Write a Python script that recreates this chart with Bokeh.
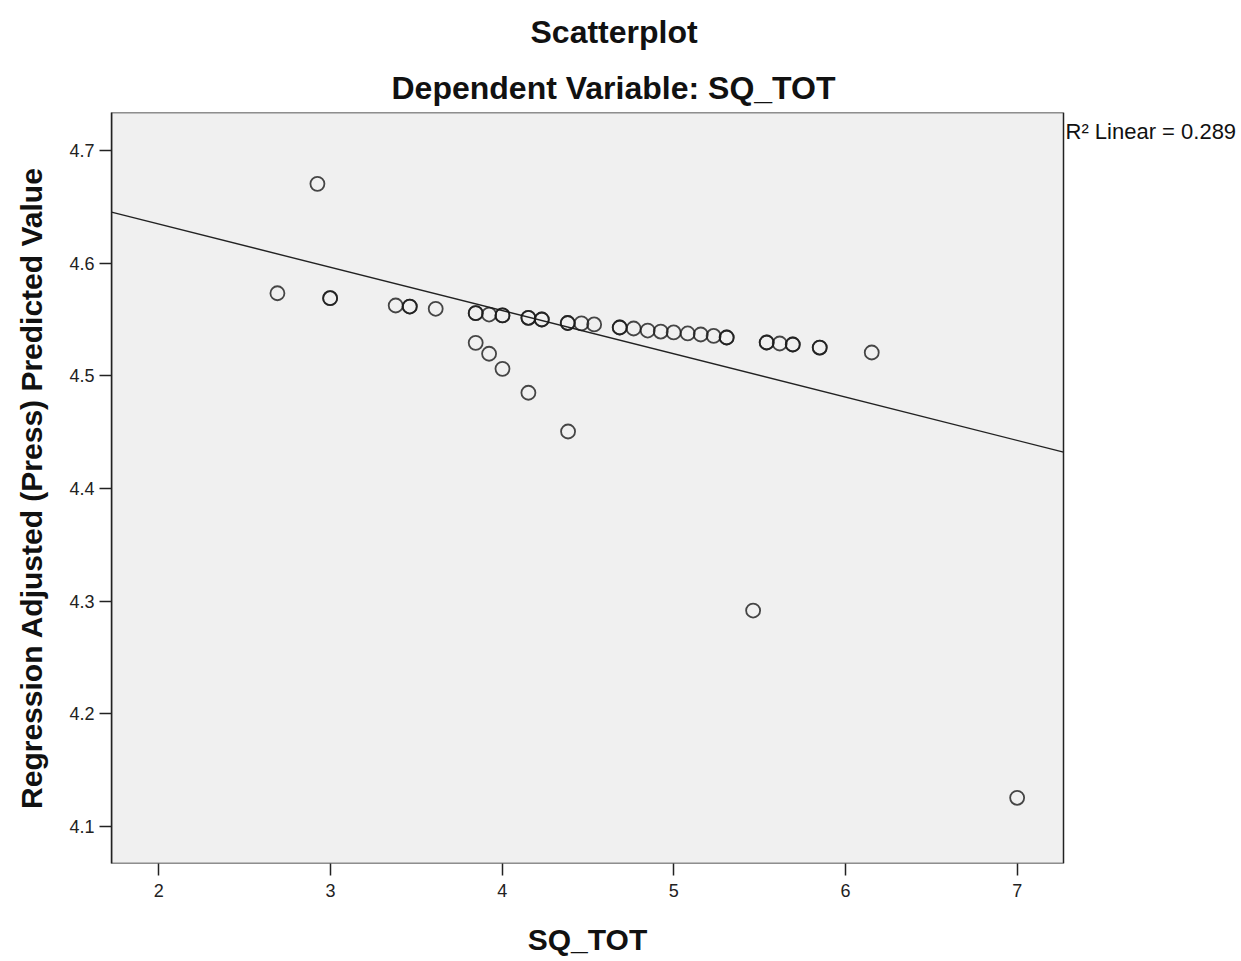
from bokeh.plotting import figure
from bokeh.models import FixedTicker, Title, Label, BoxAnnotation, LinearAxis
from bokeh.embed import file_html
from bokeh.resources import INLINE

# ---- data (SQ_TOT vs regression adjusted predicted value) ----
sq_tot = [2.924, 2.691, 2.998, 2.998, 3.380, 3.462, 3.462, 3.613,
          3.846, 3.846, 3.924, 4.002, 4.002, 4.153, 4.153, 4.231, 4.231,
          4.382, 4.382, 4.462, 4.536, 4.685, 4.685, 4.766, 4.848, 4.924,
          4.999, 5.081, 5.157, 5.232, 5.308, 5.308, 5.541, 5.541, 5.617,
          5.693, 5.693, 5.850, 5.850, 6.153,
          3.846, 3.924, 4.002, 4.153, 4.384, 5.462, 7.000]
predicted = [4.6704, 4.5733, 4.5689, 4.5689, 4.5624, 4.5615, 4.5615, 4.5595,
             4.5556, 4.5556, 4.5544, 4.5536, 4.5536, 4.5515, 4.5515, 4.5500, 4.5500,
             4.5469, 4.5469, 4.5465, 4.5456, 4.5429, 4.5429, 4.5420, 4.5402, 4.5393,
             4.5385, 4.5376, 4.5367, 4.5354, 4.5340, 4.5340, 4.5296, 4.5296, 4.5287,
             4.5278, 4.5278, 4.5251, 4.5251, 4.5207,
             4.5293, 4.5196, 4.5062, 4.4850, 4.4506, 4.2917, 4.1255]

fit_slope = -0.0384
fit_intercept = 4.7115
r2_text = "R\u00b2 Linear = 0.289"

x_ticks = [2, 3, 4, 5, 6, 7]
y_ticks = [4.1, 4.2, 4.3, 4.4, 4.5, 4.6, 4.7]
x_lo, x_hi = 1.7245, 7.27
y_lo, y_hi = 4.0672, 4.7337

title_main = "Scatterplot"
title_sub = "Dependent Variable: SQ_TOT"
x_label = "SQ_TOT"
y_label = "Regression Adjusted (Press) Predicted Value"

FONT = "Liberation Sans"
W, H = 1240, 958
LEFT, TOP, BOTTOM = 111, 112, 95
BOX_W = 952                       # pixel width of the plot box
BOX_H = H - TOP - BOTTOM
FRAME_W = W - LEFT                # frame extends to the right edge (room for the R² note)
x_end = x_lo + (x_hi - x_lo) * FRAME_W / BOX_W

p = figure(width=W, height=H, x_range=(x_lo, x_end), y_range=(y_lo, y_hi),
           output_backend="svg", toolbar_location=None, title=None,
           min_border_left=LEFT, min_border_right=0,
           min_border_top=TOP, min_border_bottom=BOTTOM)

p.background_fill_color = "white"
p.border_fill_color = "white"
p.outline_line_color = None
p.grid.visible = False

# the grey plot box
p.add_layout(BoxAnnotation(left=x_lo, right=x_hi, bottom=y_lo, top=y_hi,
                           fill_color="#f0f0f0", fill_alpha=1.0,
                           line_color="#222222", line_alpha=1.0, line_width=1.5,
                           level="underlay"))

for ax in (p.xaxis[0], p.yaxis[0]):
    ax.minor_tick_line_color = None
    ax.major_tick_out = 12
    ax.major_tick_in = 0
    ax.major_tick_line_color = "#222222"
    ax.major_tick_line_width = 1.5
    ax.axis_line_color = "#222222"
    ax.axis_line_width = 1.5
    ax.major_label_text_font = FONT
    ax.major_label_text_font_size = "18px"
    ax.major_label_text_color = "#222222"
    ax.major_label_standoff = 5
    ax.axis_label_text_font = FONT
    ax.axis_label_text_font_style = "bold"
    ax.axis_label_text_font_size = "30px"
    ax.axis_label_text_color = "#111111"

p.xaxis[0].ticker = FixedTicker(ticks=x_ticks)
p.yaxis[0].ticker = FixedTicker(ticks=y_ticks)
p.xaxis[0].axis_line_color = None
p.xaxis[0].major_label_standoff = 8
p.yaxis[0].axis_label = y_label
p.yaxis[0].axis_label_standoff = 18

# x-axis title centred under the plot box, as a second (tick-less) axis
x_mid = (x_lo + x_hi) / 2
xlab = LinearAxis(ticker=FixedTicker(ticks=[x_mid]),
                  major_label_overrides={x_mid: x_label},
                  axis_line_color=None, major_tick_line_color=None,
                  minor_tick_line_color=None, major_tick_out=0, major_tick_in=0,
                  major_label_standoff=23, major_label_text_font=FONT,
                  major_label_text_font_style="bold",
                  major_label_text_font_size="30px",
                  major_label_text_color="#111111")
p.add_layout(xlab, "below")

# regression line across the box
p.line([x_lo, x_hi], [fit_intercept + fit_slope * x_lo, fit_intercept + fit_slope * x_hi],
       line_color="#222222", line_width=1.4)

p.scatter(sq_tot, predicted, marker="circle", size=14, fill_color=None,
          line_color="#1a1a1a", line_width=1.8, line_alpha=0.8)

# R² note just right of the box's top-right corner
y_note = y_hi - (131 - TOP) * (y_hi - y_lo) / BOX_H
p.add_layout(Label(x=x_hi, y=y_note, x_offset=2, text=r2_text,
                   text_align="left", text_baseline="middle",
                   text_font=FONT, text_font_size="22px", text_color="#111111"))

# titles (subtitle added first so it sits closest to the frame)
p.add_layout(Title(text=title_sub, align="left", offset=280, standoff=14,
                   text_font=FONT, text_font_style="bold",
                   text_font_size="32px", text_color="#111111"), "above")
p.add_layout(Title(text=title_main, align="left", offset=419, standoff=22,
                   text_font=FONT, text_font_style="bold",
                   text_font_size="32px", text_color="#111111"), "above")

open("out.html", "w").write(file_html(p, INLINE))
